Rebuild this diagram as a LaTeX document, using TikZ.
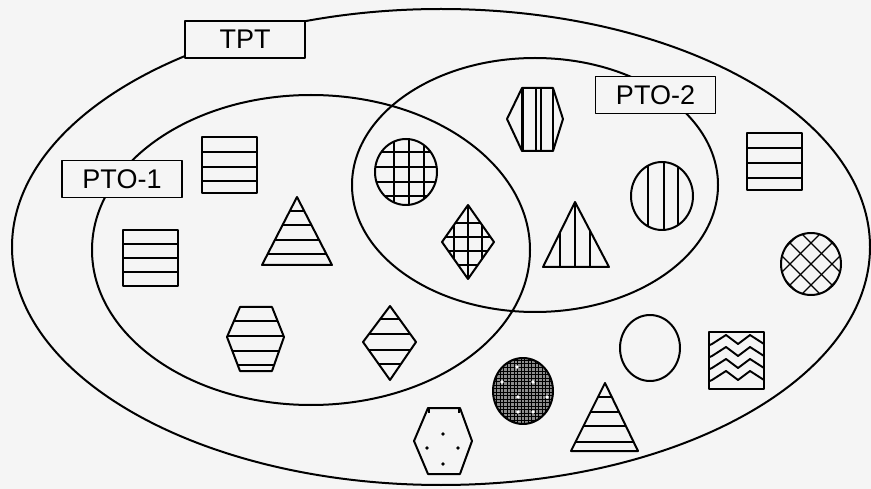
\documentclass[tikz,border=0pt]{standalone}
\usepackage{fontspec}
\setmainfont{Liberation Sans}
\begin{document}
\begin{tikzpicture}[x=1pt,y=-1pt,line join=round]
\tikzset{
  outl/.style={line width=2pt},
  strp/.style={line width=1.9pt},
  lbl/.style={draw,line width=1.6pt,fill=black!4,minimum width=120pt,minimum height=37pt,inner sep=0pt,font=\fontsize{27}{27}\selectfont}
}
\useasboundingbox (0,0) rectangle (871,489);
\fill[black!4] (0,0) rectangle (871,489);
% sets
\draw[outl] (441,247) ellipse [x radius=429, y radius=238];
\draw[outl] (311,250) ellipse [x radius=219, y radius=155];
\draw[outl] (535,185) ellipse [x radius=183, y radius=127];
\node[lbl] (tpt) at (245,39.5) {TPT};
\node[lbl] (pto2) at (655.5,95) {PTO-2};
\node[lbl] (pto1) at (122,179) {PTO-1};
% 1 rect A
\foreach \yy in {152,167,181} \draw[strp] (202,\yy) -- (257,\yy);
\draw[outl] (202,137) rectangle (257,193);
% 2 rect B
\foreach \yy in {244,258,272} \draw[strp] (123,\yy) -- (178,\yy);
\draw[outl] (123,230) rectangle (178,286);
% 3 triangle C
\begin{scope}
\clip (297,197) -- (262,265) -- (332,265) -- cycle;
\foreach \yy in {211,225,240,254} \draw[strp] (250,\yy) -- (345,\yy);
\end{scope}
\draw[outl] (297,197) -- (262,265) -- (332,265) -- cycle;
% 4 circle D grid
\begin{scope}
\clip (406,172) ellipse [x radius=31, y radius=33];
\foreach \xx in {394,409,424} \draw[strp] (\xx,130) -- (\xx,215);
\foreach \yy in {152,167,182,196} \draw[strp] (370,\yy) -- (440,\yy);
\end{scope}
\draw[outl] (406,172) ellipse [x radius=31, y radius=33];
% 5 diamond E grid
\begin{scope}
\clip (468,205) -- (442,242) -- (468,279) -- (494,242) -- cycle;
\foreach \xx in {454,468,482} \draw[strp] (\xx,200) -- (\xx,285);
\foreach \yy in {223,237,251,265} \draw[strp] (435,\yy) -- (500,\yy);
\end{scope}
\draw[outl] (468,205) -- (442,242) -- (468,279) -- (494,242) -- cycle;
% 6 hexagon F vertical stripes
\foreach \xx in {523,536,541} \draw[strp] (\xx,88) -- (\xx,151);
\draw[outl] (507,119) -- (522,88) -- (553,88) -- (563,119) -- (553,151) -- (522,151) -- cycle;
\draw[outl] (522,88) -- (522,151) (553,88) -- (553,151);
% 7 circle G vertical stripes
\begin{scope}
\clip (662,196) ellipse [x radius=31, y radius=34];
\foreach \xx in {648,664,678} \draw[strp] (\xx,155) -- (\xx,235);
\end{scope}
\draw[outl] (662,196) ellipse [x radius=31, y radius=34];
% 8 triangle H vertical stripes
\begin{scope}
\clip (575,202) -- (543,267) -- (609,267) -- cycle;
\foreach \xx in {560,575,590} \draw[strp] (\xx,195) -- (\xx,270);
\end{scope}
\draw[outl] (575,202) -- (543,267) -- (609,267) -- cycle;
% 9 rect I
\foreach \yy in {148,163,178} \draw[strp] (747,\yy) -- (802,\yy);
\draw[outl] (747,133) rectangle (802,190);
% 10 circle J diagonal grid
\begin{scope}
\clip (811,264) ellipse [x radius=30, y radius=31];
\foreach \dd in {-42,-21,0,21,42} {
  \draw[line width=1.4pt] (811+\dd-45,264-45) -- (811+\dd+45,264+45);
  \draw[line width=1.4pt] (811+\dd-45,264+45) -- (811+\dd+45,264-45);
}
\end{scope}
\draw[outl] (811,264) ellipse [x radius=30, y radius=31];
% 11 hexagon K horizontal stripes
\begin{scope}
\clip (227,337) -- (240,307) -- (272,307) -- (284,337) -- (272,371) -- (240,371) -- cycle;
\foreach \yy in {321,336,351,365} \draw[strp] (220,\yy) -- (290,\yy);
\end{scope}
\draw[outl] (227,337) -- (240,307) -- (272,307) -- (284,337) -- (272,371) -- (240,371) -- cycle;
% 12 diamond L horizontal stripes
\begin{scope}
\clip (390,306) -- (363,342) -- (390,380) -- (416,342) -- cycle;
\foreach \yy in {319,334,350,364} \draw[strp] (355,\yy) -- (425,\yy);
\end{scope}
\draw[outl] (390,306) -- (363,342) -- (390,380) -- (416,342) -- cycle;
% 13 circle M dense texture
\begin{scope}
\clip (523,391) ellipse [x radius=30, y radius=33];
\fill[black!45] (490,355) rectangle (556,428);
\foreach \xx in {493,496.5,...,555} \draw[line width=1pt] (\xx,355) -- (\xx,428);
\foreach \yy in {357,360.5,...,428} \draw[line width=1pt] (490,\yy) -- (556,\yy);
\foreach \p in {(517,367),(533,382),(502,382),(518,397),(547,397),(533,412),(518,412)}
  \fill[white] \p circle (1.8);
\end{scope}
\draw[outl] (523,391) ellipse [x radius=30, y radius=33];
% 14 empty circle N
\draw[outl] (650,348) ellipse [x radius=30, y radius=33];
% 15 triangle O horizontal stripes
\begin{scope}
\clip (605,383) -- (571,451) -- (638,451) -- cycle;
\foreach \yy in {397,412,426,442} \draw[strp] (560,\yy) -- (650,\yy);
\end{scope}
\draw[outl] (605,383) -- (571,451) -- (638,451) -- cycle;
% 16 hexagon P dotted
\draw[outl] (414,441) -- (428,408) -- (460,408) -- (472,441) -- (460,474) -- (428,474) -- cycle;
\foreach \p in {(443,434),(427,448),(458,448),(443,464)} \fill \p circle (1.8);
\draw[line width=1.2pt] (429,409) -- (429,413) (459,409) -- (459,413);
% 17 square Q zigzag
\begin{scope}
\clip (709,332) rectangle (764,389);
\foreach \yy in {344,356,368,380}
  \draw[strp] (705,\yy+3) -- (712,\yy) -- (726,\yy-9) -- (738,\yy) -- (750,\yy-9) -- (764,\yy) -- (770,\yy-4);
\end{scope}
\draw[outl] (709,332) rectangle (764,389);
\end{tikzpicture}
\end{document}
